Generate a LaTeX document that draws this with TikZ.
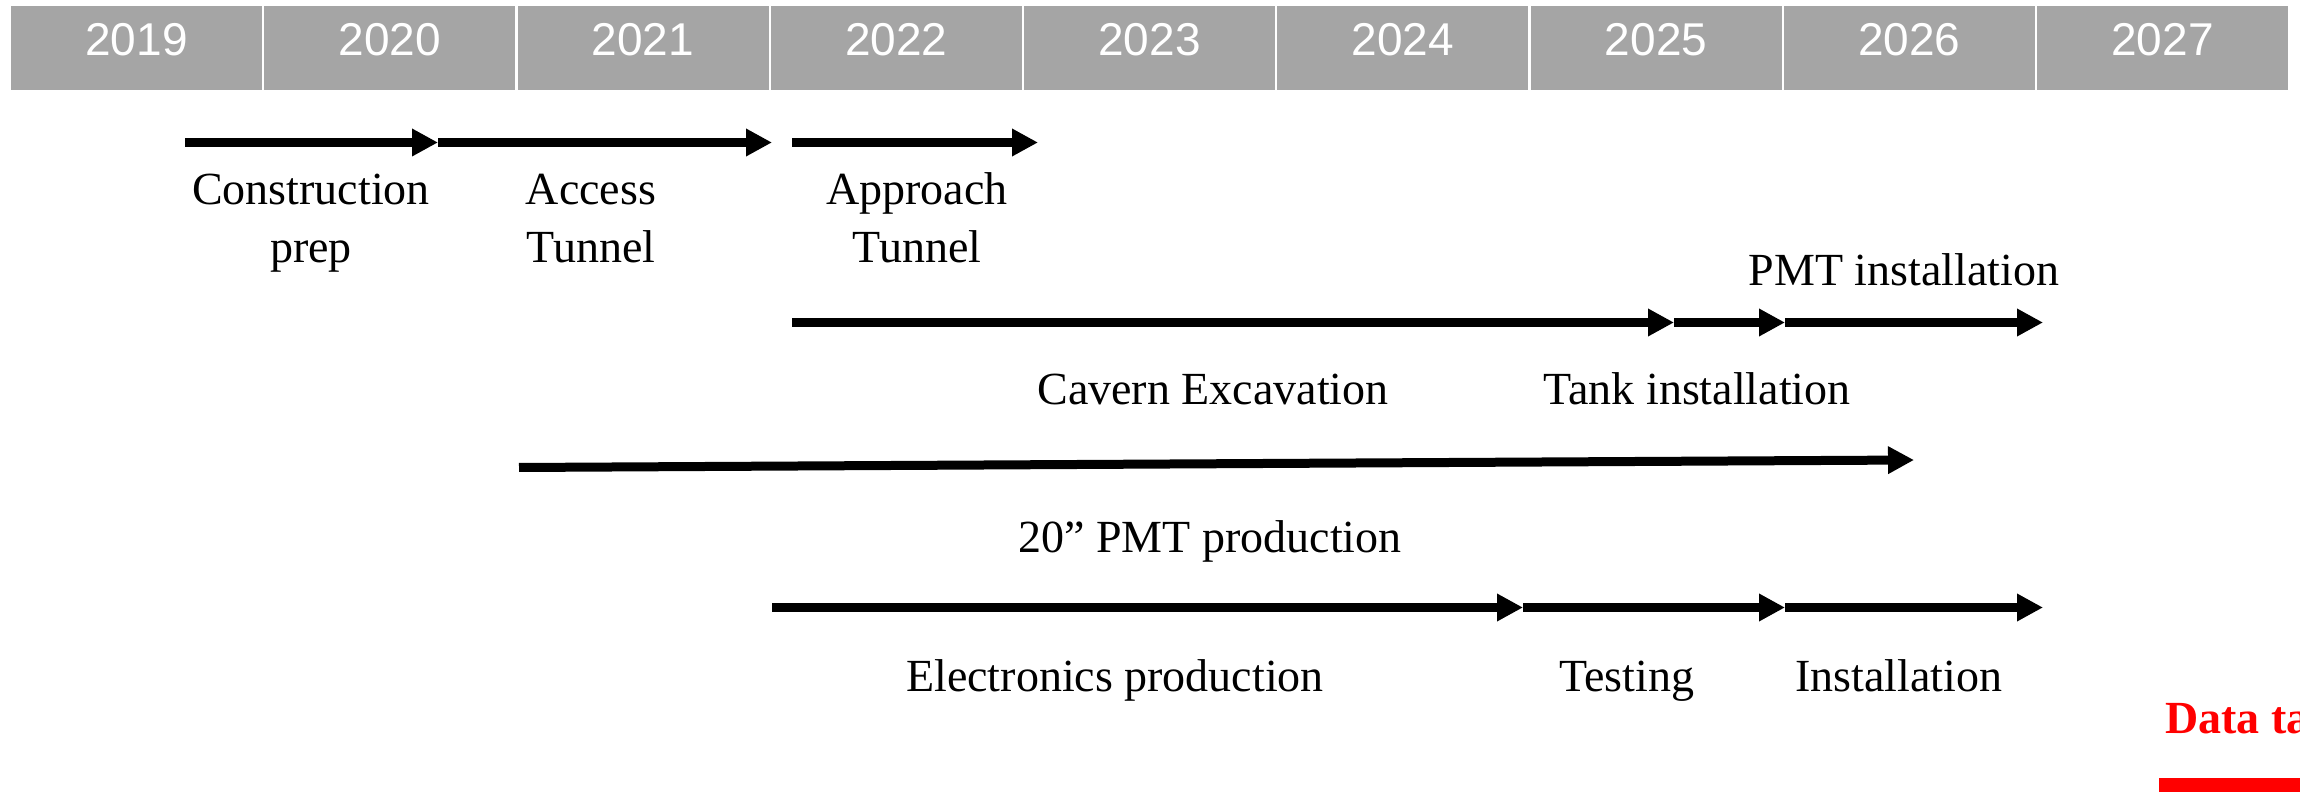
\documentclass[tikz,border=0pt]{standalone}
\usepackage{xcolor}
\usepackage{fontspec}
\setmainfont{Liberation Serif}
\newfontfamily\yearfont{Liberation Sans}
\usepackage{tikz}
\usetikzlibrary{arrows.meta,positioning}

\definecolor{barGray}{RGB}{165,165,165}

\tikzset{
  yearcell/.style={fill=barGray, minimum width=125.5pt, minimum height=42pt, inner sep=0pt},
  yeartext/.style={text=white, font=\yearfont\fontsize{23}{28}\selectfont, inner sep=0pt},
  phase/.style={line width=4.5pt, -{Triangle[length=13pt,width=13pt]}},
  task/.style={font=\fontsize{23}{29}\selectfont, align=center, inner sep=0pt, text depth=0pt},
}

\begin{document}
\begin{tikzpicture}[x=0.5pt, y=-0.5pt]
    \useasboundingbox (0,0) rectangle (2300,806);
    \clip (0,0) rectangle (2300,806);

    % year header
    \foreach \yr [count=\i from 0] in {2019,...,2027} {
        \node[yearcell] (cell\i) at (136.5+253.25*\i, 48) {};
        \node[yeartext] (yr\i) at (136.5+253.25*\i, 39.5) {\yr};
    }

    % tunnels
    \coordinate (cp0) at (185,142.5);
    \coordinate (cp1) at (438,142.5);
    \coordinate (at1) at (772,142.5);
    \coordinate (ap0) at (792,142.5);
    \coordinate (ap1) at (1038,142.5);
    \draw[phase] (cp0) -- (cp1);
    \draw[phase] (cp1) -- (at1);
    \draw[phase] (ap0) -- (ap1);
    \node[task] (constr) at (311,218) {Construction\\prep};
    \node[task] (access) at (591,218) {Access\\Tunnel};
    \node[task] (approach) at (917,218) {Approach\\Tunnel};

    % cavern and detector
    \coordinate (ce0) at (792,322.5);
    \coordinate (ce1) at (1674,322.5);
    \coordinate (ti1) at (1785,322.5);
    \coordinate (pi1) at (2043,322.5);
    \draw[phase] (ce0) -- (ce1);
    \draw[phase] (ce1) -- (ti1);
    \draw[phase] (ti1) -- (pi1);
    \node[task] (pmtinst) at (1904,270) {PMT installation};
    \node[task] (cavern) at (1213,389) {Cavern Excavation};
    \node[task] (tank) at (1697,389) {Tank installation};

    % PMTs
    \coordinate (pp0) at (519,467.5);
    \coordinate (pp1) at (1914,460);
    \draw[phase] (pp0) -- (pp1);
    \node[task] (pmtprod) at (1210,537) {20” PMT production};

    % electronics
    \coordinate (ep0) at (772,607.5);
    \coordinate (ep1) at (1523,607.5);
    \coordinate (te1) at (1785,607.5);
    \coordinate (in1) at (2043,607.5);
    \draw[phase] (ep0) -- (ep1);
    \draw[phase] (ep1) -- (te1);
    \draw[phase] (te1) -- (in1);
    \node[task] (elec) at (1115,676) {Electronics production};
    \node[task] (testing) at (1627,676) {Testing};
    \node[task] (install) at (1899,676) {Installation};

    % data taking
    \node[anchor=base west, text=red, font=\bfseries\fontsize{23}{29}\selectfont, inner sep=0pt] (datatk) at (2165,733) {Data taking};
    \coordinate (dt0) at (2159,785);
    \coordinate (dt1) at (2420,785);
    \draw[red, line width=7pt] (dt0) -- (dt1);
\end{tikzpicture}
\end{document}
